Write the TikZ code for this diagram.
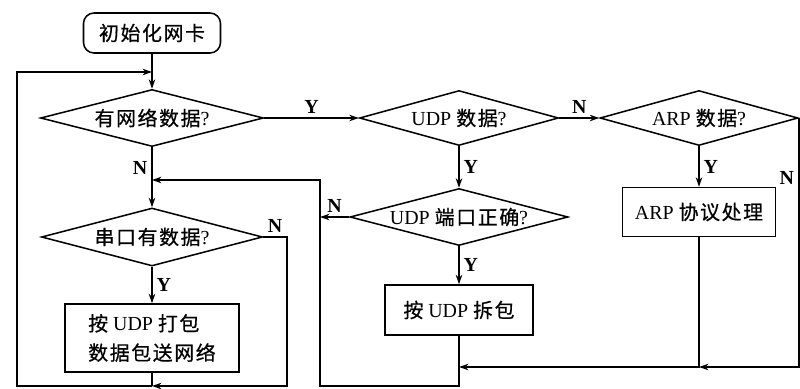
\documentclass[tikz,border=0pt]{standalone}
\usepackage{fontspec}
\setmainfont{Liberation Serif}
\newfontfamily\cjk[Scale=1.0,LetterSpace=8,FakeBold=0.6]{Noto Sans CJK SC}
\usetikzlibrary{arrows.meta,shapes.geometric}

\begin{document}
\begin{tikzpicture}[x=0.03cm,y=-0.03cm,font=\fontsize{17pt}{25pt}\selectfont,line width=1.3pt,
  decision/.style={draw,diamond,inner sep=0pt,aspect=3.9},
  proc/.style={draw,rectangle,align=left},
  yn/.style={font=\fontsize{17pt}{18pt}\selectfont\bfseries},
  arr/.style={-{Stealth[length=8pt,width=5.5pt]}}]
\useasboundingbox (0,0) rectangle (800,389);

\node[draw,rounded corners=9pt,minimum width=4.11cm,minimum height=1.2cm] (init) at (152,33) {\cjk 初始化网卡};
\node[decision,minimum width=6.69cm,minimum height=1.71cm] (net) at (152,118) {{\cjk 有网络数据}?};
\node[decision,minimum width=5.97cm,minimum height=1.65cm] (udp) at (459,118) {UDP {\cjk 数据}?};
\node[decision,minimum width=5.94cm,minimum height=1.65cm] (arp) at (699,118) {ARP {\cjk 数据}?};
\node[decision,minimum width=6.54cm,minimum height=1.71cm] (port) at (459,217) {UDP {\cjk 端口正确}?};
\node[decision,minimum width=6.63cm,minimum height=1.74cm] (serial) at (152,237) {{\cjk 串口有数据}?};
\node[proc,minimum width=4.44cm,minimum height=1.5cm] (unpack) at (459,310) {{\cjk 按} UDP {\cjk 拆包}};
\node[proc,minimum width=4.59cm,minimum height=1.47cm] (arpbox) at (699,212) {ARP {\cjk 协议处理}};
\node[proc,minimum width=5.22cm,minimum height=2.04cm] (pack) at (152,338) {{\cjk 按} UDP {\cjk 打包}\\{\cjk 数据包送网络}};

\coordinate (loopL) at (17,72);
\coordinate (loopIn) at (152,72);
\coordinate (packOut) at (152,386);
\coordinate (serOut) at (287,386);
\coordinate (retBL) at (320,386);
\coordinate (joinA) at (152,180);
\coordinate (portN) at (320,217);
\coordinate (joinB) at (459,367);
\coordinate (arpJoin) at (699,367);

\draw[arr] (init) -- (net);
\draw[arr] (net) -- (udp) node[yn,midway,above] {Y};
\draw[arr] (udp) -- (arp) node[yn,midway,above] {N};
\draw[arr] (net) -- (serial) node[yn,pos=0.35,left] {N};
\draw[arr] (udp) -- (port) node[yn,midway,right] {Y};
\draw[arr] (arp) -- (arpbox) node[yn,midway,right] {Y};
\draw[arr] (port) -- (unpack) node[yn,midway,right] {Y};
\draw[arr] (serial) -- (pack) node[yn,midway,right] {Y};
\draw[arr] (port.west) -- (portN) node[yn,midway,above] {N};
\draw[arr] (serial.east) -| (serOut) node[yn,pos=0.25,above] {N} -- (packOut);
\draw (pack.south) -- (packOut);
\draw[arr] (packOut) -| (loopL) -- (loopIn);
\draw[arr] (unpack.south) |- (retBL) |- (joinA);
\draw[arr] (arpbox.south) |- (joinB);
\draw[arr] (arp.east) |- (arpJoin) node[yn,pos=0.12,left] {N};
\end{tikzpicture}
\end{document}
